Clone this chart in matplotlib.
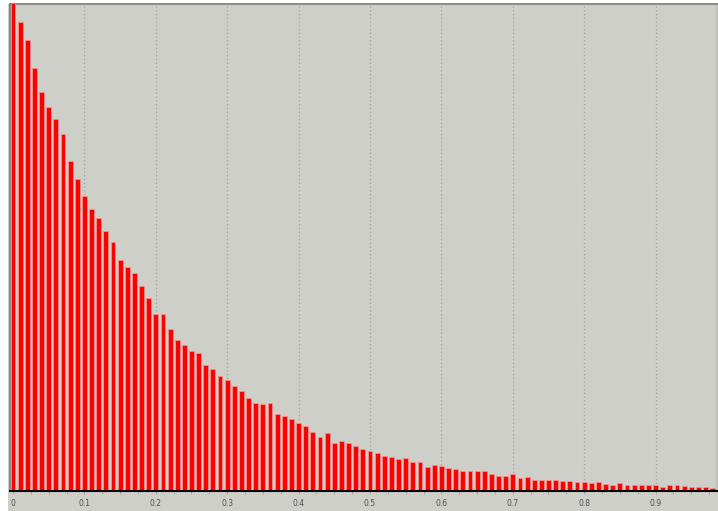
import numpy as np
import matplotlib
matplotlib.use("Agg")
import matplotlib.pyplot as plt
from matplotlib.patches import Rectangle
from matplotlib.ticker import MultipleLocator, FixedLocator

# histogram bin centres (0.00 .. 0.98, step 0.01)
bin_centers = np.arange(99) / 100.0

# bar heights (arbitrary units)
counts = [
    487, 468.5, 450.2, 422.5, 398.8, 383.8, 371.2, 356.8, 329.2, 311.2,
    294.5, 281.2, 272.0, 259.8, 248.2, 230.5, 223.2, 217.2, 204.0, 192.0,
    176.8, 176.2, 161.8, 150.5, 145.8, 139.5, 137.8, 125.2, 121.2, 114.5,
    110.8, 104.5, 99.2, 92.8, 87.2, 86.2, 87.2, 76.5, 74.2, 71.5,
    67.2, 64.2, 58.8, 53.2, 57.2, 47.8, 49.2, 47.8, 44.2, 41.5,
    39.8, 37.5, 34.8, 33.8, 31.2, 32.2, 28.5, 28.5, 23.5, 25.2,
    24.8, 23.0, 21.2, 19.2, 19.2, 19.5, 19.2, 16.5, 14.5, 14.5,
    16.2, 12.5, 13.8, 10.8, 10.8, 10.2, 10.2, 9.2, 9.2, 8.5,
    8.8, 7.2, 8.8, 6.5, 5.5, 7.5, 5.5, 5.2, 5.5, 5.5,
    5.2, 3.5, 5.2, 5.2, 4.5, 3.2, 3.2, 3.2, 2.8,
]

tick_values = [0, 0.1, 0.2, 0.3, 0.4, 0.5, 0.6, 0.7, 0.8, 0.9]
tick_labels = ["0", "0.1", "0.2", "0.3", "0.4", "0.5", "0.6", "0.7", "0.8", "0.9"]

W, H = 718, 511
panel = "#cfcfc9"
fig = plt.figure(figsize=(W / 100, H / 100), dpi=100, facecolor="white")

# grey panel behind the plot and tick labels
fig.patches.append(Rectangle((8 / W, 0), 1 - 8 / W, (H - 4) / H,
                             transform=fig.transFigure, facecolor=panel,
                             edgecolor="none", zorder=-10))

left, right = 9.5 / W, 717 / W
bottom, top = (H - 490.5) / H, (H - 4.5) / H
ax = fig.add_axes([left, bottom, right - left, top - bottom])
ax.set_zorder(5)
ax.set_facecolor(panel)

ax.bar(bin_centers, counts, width=0.0068, color="#ff0000",
       edgecolor="#f49090", linewidth=0.6, zorder=3)

ax.set_xlim(-0.0049, 0.986)
ax.set_ylim(0, 486)

# dotted vertical grid lines
for v in tick_values[1:]:
    ax.axvline(v, color="#a2a29e", linestyle=(0, (1.0, 2.0)), linewidth=0.9, zorder=1)

ax.xaxis.set_major_locator(FixedLocator(tick_values))
ax.set_xticklabels(tick_labels)
ax.xaxis.set_minor_locator(MultipleLocator(0.025))
ax.tick_params(axis="x", which="both", direction="out", length=2, width=0.6,
               color="#9a9a9a", labelsize=5.5, labelcolor="#505050", pad=4)
ax.set_yticks([])

for s in ["top", "left", "right"]:
    ax.spines[s].set_color("#7a7a7a")
    ax.spines[s].set_linewidth(1.2)
ax.spines["right"].set_color("#bdbdb8")
ax.spines["bottom"].set_color("black")
ax.spines["bottom"].set_linewidth(1.5)
ax.spines["bottom"].set_zorder(5)

fig.savefig("out.png", dpi=100, facecolor="white")
